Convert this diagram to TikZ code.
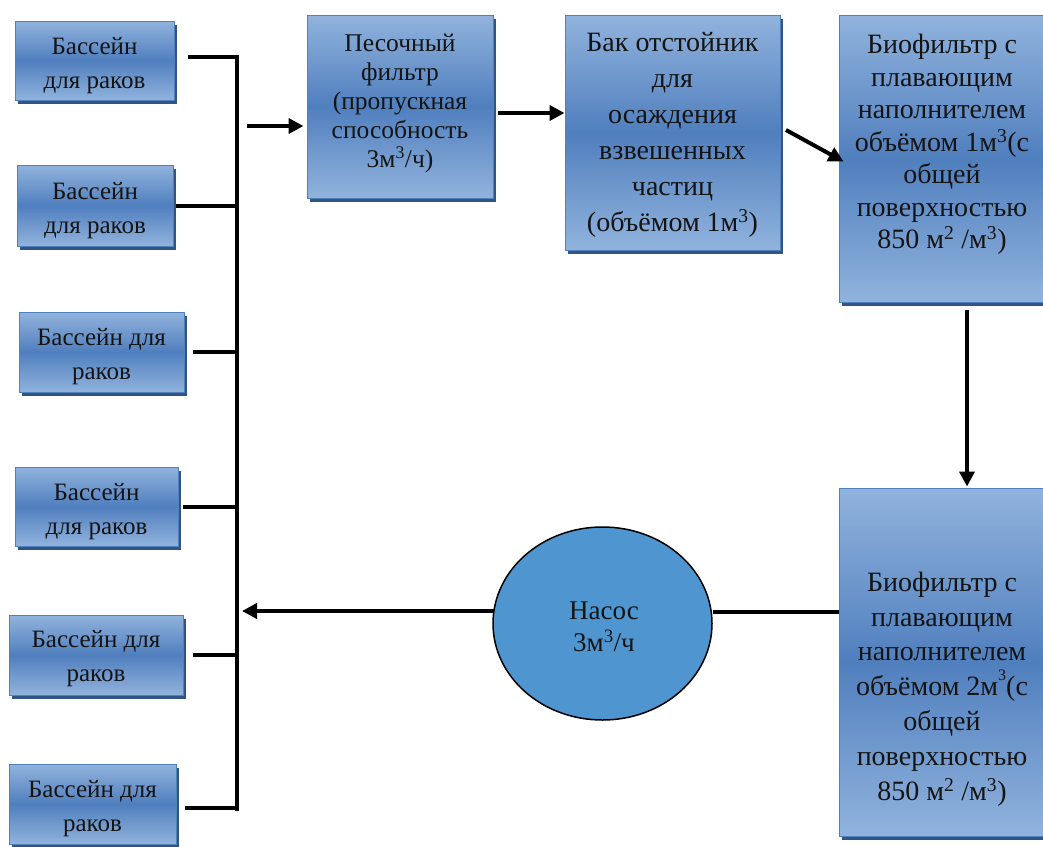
\documentclass[tikz,border=0pt]{standalone}
\usepackage{fontspec}
\setmainfont{Liberation Serif}
\usetikzlibrary{arrows.meta,shadows,calc,shapes.geometric}
\definecolor{lightb}{RGB}{145,179,221}
\definecolor{midb}{RGB}{80,127,190}
\definecolor{bordc}{RGB}{79,129,189}
\definecolor{shadc}{RGB}{50,84,132}
\definecolor{pumpc}{RGB}{79,150,208}
\definecolor{txtc}{RGB}{20,20,20}
\begin{document}
\begin{tikzpicture}[x=1pt,y=-1pt,
  box/.style={draw=bordc, line width=1pt, top color=lightb, bottom color=lightb, middle color=midb,
    drop shadow={shadow xshift=3pt, shadow yshift=-3.5pt, fill=shadc, opacity=1},
    inner sep=0pt},
  txt/.style={inner sep=0pt, align=center, text=txtc},
  ptxt/.style={txt, font=\fontsize{25}{34}\selectfont},
  btxt/.style={txt, font=\fontsize{28}{33}\selectfont},
  conn/.style={line width=4pt, black},
  arr/.style={conn, -{Triangle[length=15pt,width=15pt]}},
]
\useasboundingbox (0,0) rectangle (1043,846);
% pools
\node[box, minimum width=159pt, minimum height=79pt] (p1) at (94.5,60.5) {};
\node[ptxt] (p1t) at ($(p1)+(0,5)$) {Бассейн\\для раков};
\node[box, minimum width=156pt, minimum height=81pt] (p2) at (95,205.5) {};
\node[ptxt] (p2t) at ($(p2)+(0,5)$) {Бассейн\\для раков};
\node[box, minimum width=165pt, minimum height=80pt] (p3) at (101.5,352) {};
\node[ptxt] (p3t) at ($(p3)+(0,5)$) {Бассейн для\\раков};
\node[box, minimum width=163pt, minimum height=79pt] (p4) at (96.5,506.5) {};
\node[ptxt] (p4t) at ($(p4)+(0,5)$) {Бассейн\\для раков};
\node[box, minimum width=174pt, minimum height=80pt] (p5) at (96,655) {};
\node[ptxt] (p5t) at ($(p5)+(0,4)$) {Бассейн для\\раков};
\node[box, minimum width=167pt, minimum height=80pt] (p6) at (92.5,804) {};
\node[ptxt] (p6t) at ($(p6)+(0,5)$) {Бассейн для\\раков};
% process boxes
\node[box, minimum width=186pt, minimum height=183pt] (sand) at (400,106.5) {};
\node[txt, font=\fontsize{25.5}{29}\selectfont] (sandt) at ($(sand)+(0,-3)$)
  {Песочный\\фильтр\\(пропускная\\способность\\3м\textsuperscript{3}/ч)};
\node[box, minimum width=215pt, minimum height=235pt] (bak) at (672.5,132.5) {};
\node[txt, font=\fontsize{28}{36}\selectfont] (bakt) at ($(bak)+(0,2)$)
  {Бак отстойник\\для\\осаждения\\взвешенных\\частиц\\(объёмом 1м\textsuperscript{3})};
\node[box, minimum width=206pt, minimum height=287pt] (bio1) at (942,158.5) {};
\node[txt, font=\fontsize{28}{32.5}\selectfont] (bio1t) at ($(bio1)+(0,-14)$)
  {Биофильтр с\\плавающим\\наполнителем\\объёмом 1м\textsuperscript{3}(с\\общей\\поверхностью\\850 м\textsuperscript{2} /м\textsuperscript{3})};
\node[box, minimum width=206pt, minimum height=348pt] (bio2) at (942,662) {};
\node[txt, font=\fontsize{28}{34.8}\selectfont] (bio2t) at (942,689)
  {Биофильтр с\\плавающим\\наполнителем\\объёмом 2м\raisebox{0.55em}{\fontsize{16}{16}\selectfont 3}(с\\общей\\поверхностью\\850 м\textsuperscript{2} /м\textsuperscript{3})};
% pump
\node[ellipse, draw=black, line width=1.5pt, fill=pumpc, minimum width=219pt, minimum height=193pt,
  inner sep=0pt] (pump) at (602.5,623.5) {};
\node[txt, font=\fontsize{27}{32}\selectfont] (pumpt) at (604,627) {Насос\\3м\textsuperscript{3}/ч};
% bus
\coordinate (bt) at (237,55);
\coordinate (bb) at (237,811);
\draw[conn] (bt) -- (bb);
\coordinate (s1) at (174,57);
\draw[conn, shorten <=14pt] (s1) -- (s1 -| bt);
\draw[conn, shorten <=2pt] (p2.east) -- (p2.east -| bt);
\draw[conn, shorten <=8pt] (p3.east) -- (p3.east -| bt);
\draw[conn, shorten <=4pt] (p4.east) -- (p4.east -| bt);
\draw[conn, shorten <=9pt] (p5.east) -- (p5.east -| bt);
\coordinate (s6) at (176,808);
\draw[conn, shorten <=9pt] (s6) -- (s6 -| bt);
% arrows
\coordinate (a1) at (247,126);
\draw[arr, shorten >=3pt] (a1) -- (a1 -| sand.west);
\coordinate (a2) at (498,113);
\draw[arr] (a2) -- (a2 -| bak.west);
\coordinate (a3) at (786,130);
\draw[arr] (a3) -- ($(bio1.west)+(5,3)$);
\coordinate (a4) at (967,310);
\draw[arr, shorten >=1pt] (a4) -- (a4 |- bio2.north);
\coordinate (l1) at (839,612);
\draw[conn] (bio2.west |- l1) -- (l1 -| pump.east);
\coordinate (l2) at (494,611);
\draw[arr, shorten >=5pt] (l2) -- (l2 -| bt);
\end{tikzpicture}
\end{document}
